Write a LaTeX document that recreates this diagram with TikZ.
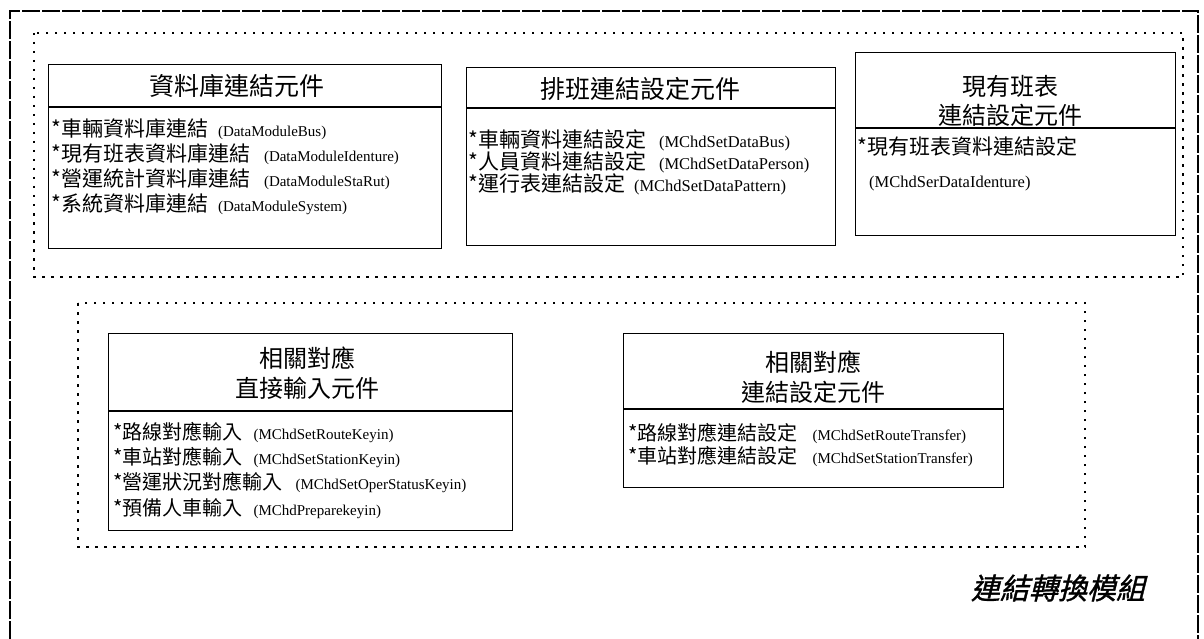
\documentclass[tikz,border=0pt]{standalone}
\usepackage{fontspec}
\setmainfont{Liberation Serif}
\newfontfamily\cjk{Noto Sans CJK TC}
\newfontfamily\cjkit[FakeSlant=0.25,FakeBold=1.2]{Noto Sans CJK TC}
\newfontfamily\latf{Liberation Serif}
\newcommand{\entxt}[1]{{\latf\fontsize{15}{18}\selectfont #1}}
\newcommand{\entxtb}[1]{{\latf\fontsize{16.5}{19}\selectfont #1}}
\begin{document}
\begin{tikzpicture}[x=1pt,y=-1pt,
  cbox/.style={draw, line width=1.4pt, anchor=north west, inner sep=0pt},
  dotbox/.style={draw, line width=1.7pt, dash pattern=on 2.5pt off 6.5pt},
  outerline/.style={draw, line width=1.8pt, dash pattern=on 18pt off 2pt},
  hdr/.style={font=\cjk\fontsize{24}{28}\selectfont, inner sep=0pt, align=center},
  hdrbig/.style={font=\cjk\fontsize{25}{28}\selectfont, inner sep=0pt, align=center},
  item/.style={font=\cjk\fontsize{20}{24}\selectfont, anchor=west, inner sep=0pt},
  itembig/.style={font=\cjk\fontsize{21}{24}\selectfont, anchor=west, inner sep=0pt},
  divider/.style={line width=1.4pt}
]
\useasboundingbox (0,0) rectangle (1204,639);
\fill[white] (0,0) rectangle (1204,639);

% outer module frame (open at the bottom)
\draw[outerline] (10,639) -- (10,11) -- (1198,11) -- (1198,639);

% dotted groups
\draw[dotbox] (34,33) rectangle (1183,277);
\draw[dotbox] (78,303) rectangle (1085,547);

% box 1
\node[cbox, minimum width=393pt, minimum height=184pt] (b1) at (48,64) {};
\draw[divider] ([yshift=-43pt]b1.north west) -- ([yshift=-43pt]b1.north east);
\node[hdrbig] (b1h) at (237,86) {資料庫連結元件};
\node[itembig] (b1i1) at (51,129) {*車輛資料庫連結\hspace{10pt}\entxt{(DataModuleBus)}};
\node[itembig] (b1i2) at (51,154) {*現有班表資料庫連結\hspace{14pt}\entxt{(DataModuleIdenture)}};
\node[itembig] (b1i3) at (51,179) {*營運統計資料庫連結\hspace{14pt}\entxt{(DataModuleStaRut)}};
\node[itembig] (b1i4) at (51,204) {*系統資料庫連結\hspace{10pt}\entxt{(DataModuleSystem)}};

% box 2
\node[cbox, minimum width=369pt, minimum height=178pt] (b2) at (466,67) {};
\draw[divider] ([yshift=-41pt]b2.north west) -- ([yshift=-41pt]b2.north east);
\node[hdrbig] (b2h) at (640,89) {排班連結設定元件};
\node[itembig] (b2i1) at (468,140) {*車輛資料連結設定\hspace{13pt}\entxtb{(MChdSetDataBus)}};
\node[itembig] (b2i2) at (468,162) {*人員資料連結設定\hspace{13pt}\entxtb{(MChdSetDataPerson)}};
\node[itembig] (b2i3) at (468,184) {*運行表連結設定\hspace{9pt}\entxtb{(MChdSetDataPattern)}};

% box 3
\node[cbox, minimum width=320pt, minimum height=183pt] (b3) at (855,52) {};
\draw[divider] ([yshift=-76pt]b3.north west) -- ([yshift=-76pt]b3.north east);
\node[hdr] (b3h) at (1010,101) {現有班表\\[1pt]連結設定元件};
\node[itembig] (b3i1) at (857,147) {*現有班表資料連結設定};
\node[item] (b3i2) at (869,184) {\entxtb{(MChdSerDataIdenture)}};

% box 4
\node[cbox, minimum width=404pt, minimum height=197pt] (b4) at (108,333) {};
\draw[divider] ([yshift=-78pt]b4.north west) -- ([yshift=-78pt]b4.north east);
\node[hdr] (b4h) at (307,373) {相關對應\\[2pt]直接輸入元件};
\node[item] (b4i1) at (113,433) {*路線對應輸入\hspace{11pt}\entxt{(MChdSetRouteKeyin)}};
\node[item] (b4i2) at (113,458) {*車站對應輸入\hspace{11pt}\entxt{(MChdSetStationKeyin)}};
\node[item] (b4i3) at (113,483) {*營運狀況對應輸入\hspace{13pt}\entxt{(MChdSetOperStatusKeyin)}};
\node[item] (b4i4) at (113,509) {*預備人車輸入\hspace{11pt}\entxt{(MChdPreparekeyin)}};

% box 5
\node[cbox, minimum width=380pt, minimum height=154pt] (b5) at (623,333) {};
\draw[divider] ([yshift=-76pt]b5.north west) -- ([yshift=-76pt]b5.north east);
\node[hdr] (b5h) at (813,377) {相關對應\\[2pt]連結設定元件};
\node[item] (b5i1) at (628,433) {*路線對應連結設定\hspace{15pt}\entxt{(MChdSetRouteTransfer)}};
\node[item] (b5i2) at (628,456) {*車站對應連結設定\hspace{15pt}\entxt{(MChdSetStationTransfer)}};

% module label
\node[font=\cjkit\fontsize{29}{32}\selectfont, inner sep=0pt] (lbl) at (1058,588) {連結轉換模組};
\end{tikzpicture}
\end{document}
